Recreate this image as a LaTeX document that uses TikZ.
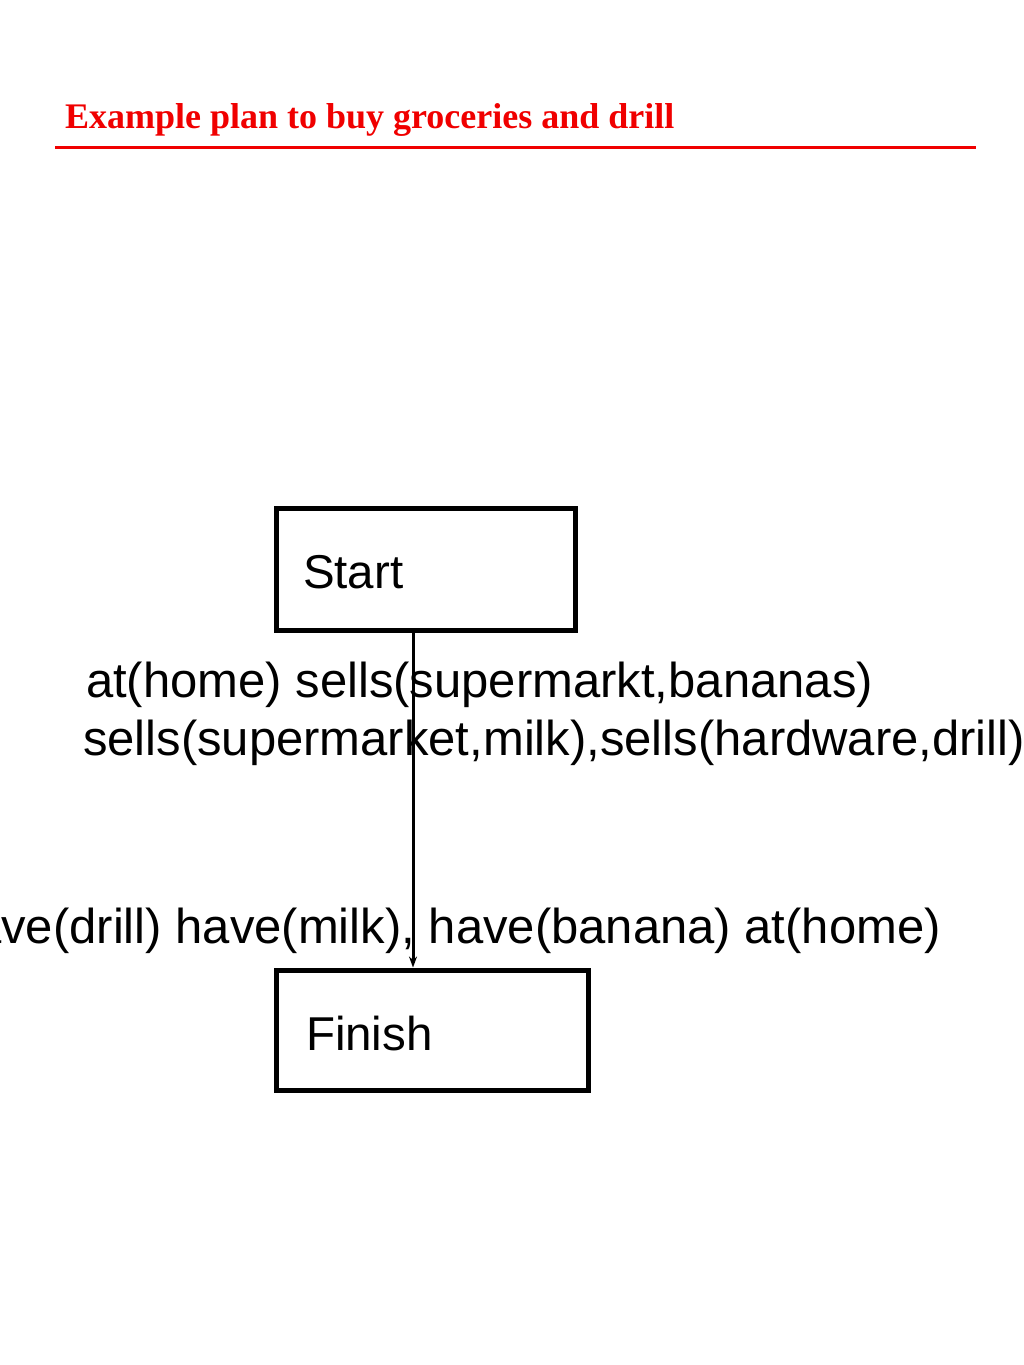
\documentclass[tikz,border=0pt]{standalone}
\usepackage{fontspec}
\newfontfamily\hvfont{Liberation Sans}
\newfontfamily\tmfont{Liberation Serif}
\usetikzlibrary{arrows.meta}
\definecolor{titlered}{RGB}{240,0,0}
\tikzset{
  box/.style={draw=black, line width=5pt, rectangle, inner sep=0pt, outer sep=0pt, anchor=north west},
  lbl/.style={inner sep=0pt, outer sep=0pt, font=\hvfont\fontsize{49}{49}\selectfont},
  boxlbl/.style={inner sep=0pt, outer sep=0pt, anchor=base west, font=\hvfont\fontsize{47.5}{47.5}\selectfont},
  conn/.style={draw=black, line width=3pt, -{Stealth[length=11pt,width=8pt]}},
  ttl/.style={inner sep=0pt, outer sep=0pt, anchor=base west, text=titlered, font=\tmfont\bfseries\fontsize{36}{36}\selectfont}
}
\begin{document}
\begin{tikzpicture}[x=1pt,y=-1pt]
\useasboundingbox (0,0) rectangle (1024,1365);
\clip (0,0) rectangle (1024,1365);
\fill[white] (0,0) rectangle (1024,1365);
% title
\node[ttl] (title) at (65,128) {Example plan to buy groceries and drill};
\coordinate (rl) at (55,147.5);
\coordinate (rr) at (976,147.5);
\draw[titlered, line width=3.5pt] (rl) -- (rr);
% boxes
\node[box, minimum width=299pt, minimum height=122pt] (start) at (276,508) {};
\node[boxlbl] (starttxt) at (303,588) {Start};
\node[box, minimum width=312pt, minimum height=120pt] (finish) at (276,970) {};
\node[boxlbl] (finishtxt) at (306,1050) {Finish};
% connector
\coordinate (lx) at (413,0);
\draw[conn, shorten >=2.5pt] (start.south -| lx) -- (finish.north -| lx);
% labels
\node[lbl, anchor=base west] (l1) at (86,697) {at(home) sells(supermarkt,bananas)};
\node[lbl, anchor=base west] (l2) at (83,755) {sells(supermarket,milk),sells(hardware,drill)};
\node[lbl, anchor=base east] (l3) at (941,943) {have(drill) have(milk), have(banana) at(home)};
\end{tikzpicture}
\end{document}
